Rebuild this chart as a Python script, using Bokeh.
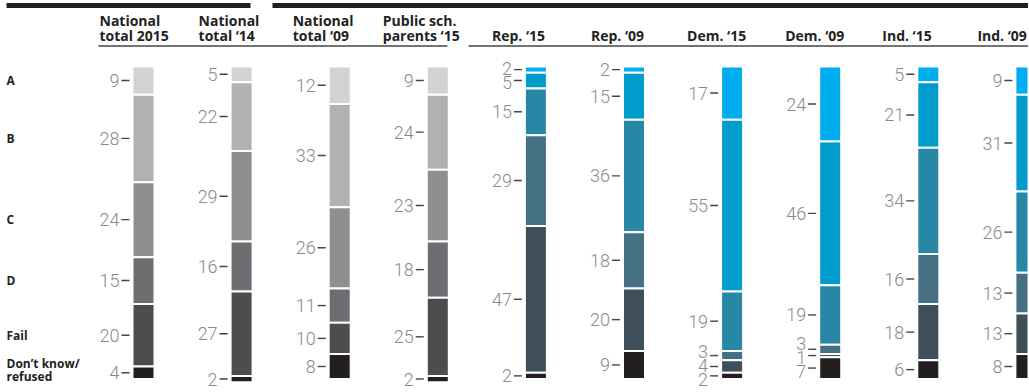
from bokeh.plotting import figure
from bokeh.models import Range1d, ColumnDataSource
from bokeh.core.properties import value
from bokeh.embed import file_html
from bokeh.resources import INLINE

# ---------------- data ----------------
grades = ["A", "B", "C", "D", "Fail", "Don’t know/\nrefused"]
column_labels = ["National\ntotal 2015", "National\ntotal ‘14", "National\ntotal ‘09",
                 "Public sch.\nparents ‘15", "Rep. ‘15", "Rep. ‘09", "Dem. ‘15",
                 "Dem. ‘09", "Ind. ‘15", "Ind. ‘09"]
national_2015 = [9, 28, 24, 15, 20, 4]
national_14 = [5, 22, 29, 16, 27, 2]
national_09 = [12, 33, 26, 11, 10, 8]
public_parents_15 = [9, 24, 23, 18, 25, 2]
rep_15 = [2, 5, 15, 29, 47, 2]
rep_09 = [2, 15, 36, 18, 20, 9]
dem_15 = [17, 55, 19, 3, 4, 2]
dem_09 = [24, 46, 19, 3, 1, 7]
ind_15 = [5, 21, 34, 16, 18, 6]
ind_09 = [9, 31, 26, 13, 13, 8]
series = [national_2015, national_14, national_09, public_parents_15,
          rep_15, rep_09, dem_15, dem_09, ind_15, ind_09]

# ---------------- styles ----------------
gray_palette = ["#d1d2d4", "#b0b1b3", "#8e8f91", "#6d6e71", "#4d4d4f", "#231f20"]
blue_palette = ["#00aeef", "#009ccc", "#2788a6", "#456f83", "#3f4f59", "#231f20"]
palettes = [gray_palette] * 4 + [blue_palette] * 6

PX_PER_PCT = 3.125      # vertical scale
TOP_IMG = 67            # image y of 0 %
COL_PX = 98.1           # column spacing in px
COL0_IMG = 144          # image x of first column centre
FIG_W, FIG_H = 1028, 391
IMG_TOP = 1             # image y of figure top
IMG_LEFT = 1            # image x of figure left


def ypx(img_y):
    return (img_y - TOP_IMG) / PX_PER_PCT


def xpx(img_x):
    return (img_x - COL0_IMG) / COL_PX


def dx(px):
    return px / COL_PX


def dy(px):
    return px / PX_PER_PCT


p = figure(width=FIG_W, height=FIG_H, output_backend="svg", toolbar_location=None,
           x_range=Range1d(xpx(IMG_LEFT), xpx(IMG_LEFT + FIG_W)),
           y_range=Range1d(ypx(IMG_TOP + FIG_H), ypx(IMG_TOP)),
           min_border=0, outline_line_color=None)
p.axis.visible = False
p.grid.visible = False

# ---------------- bars ----------------
bx, btop, bbot, bcol = [], [], [], []
for i, vals in enumerate(series):
    cum = 0
    for j, v in enumerate(vals):
        bx.append(i)
        btop.append(cum)
        bbot.append(cum + v)
        bcol.append(palettes[i][j])
        cum += v
p.vbar(x="x", top="top", bottom="bottom", width=dx(22), fill_color="color",
       line_color="white", line_width=2,
       source=ColumnDataSource(dict(x=bx, top=btop, bottom=bbot, color=bcol)))


# ---------------- value labels ----------------
def spread(mids, gap):
    groups = [[k] for k in range(len(mids))]

    def pos(g):
        c = sum(mids[k] for k in g) / len(g)
        s = c - gap * (len(g) - 1) / 2
        return [s + gap * n for n in range(len(g))]

    changed = True
    while changed:
        changed = False
        for gi in range(len(groups) - 1):
            a, b = pos(groups[gi]), pos(groups[gi + 1])
            if b[0] - a[-1] < gap - 1e-9:
                groups[gi] = groups[gi] + groups[gi + 1]
                del groups[gi + 1]
                changed = True
                break
    out = []
    for g in groups:
        out += pos(g)
    return out


lx, ly, lt, d0, d1, dyv = [], [], [], [], [], []
for i, vals in enumerate(series):
    cum = 0
    mids = []
    for v in vals:
        mids.append(cum + v / 2)
        cum += v
    ys = spread(mids, dy(14))
    for v, m, yy in zip(vals, mids, ys):
        lx.append(i - dx(24))
        ly.append(yy)
        lt.append(str(v))
        d0.append(i - dx(22))
        d1.append(i - dx(14))
        dyv.append(m)

p.text(x="x", y="y", text="t", source=ColumnDataSource(dict(x=lx, y=ly, t=lt)),
       text_align="right", text_baseline="middle", text_font=value("Roboto Light"),
       text_font_size="18px", text_color="#8a8a8a")
p.segment(x0="x0", x1="x1", y0="y", y1="y",
          source=ColumnDataSource(dict(x0=d0, x1=d1, y=dyv)),
          line_color="#444444", line_width=1.4)

# ---------------- row labels (aligned to first column) ----------------
cum = 0
rx, ry, rt = [], [], []
for g, v in zip(grades, national_2015):
    mid = cum + v / 2
    cum += v
    lines = g.split("\n")
    n = len(lines)
    for k, line in enumerate(lines):
        rx.append(xpx(7))
        ry.append(mid + dy(13) * (k - (n - 1) / 2) - dy(3) * (n - 1))
        rt.append(line)
p.text(x="x", y="y", text="t", source=ColumnDataSource(dict(x=rx, y=ry, t=rt)),
       text_align="left", text_baseline="middle", text_font=value("Open Sans"),
       text_font_style="bold", text_font_size="12px", text_color="#222222")

# ---------------- column headers ----------------
hdr_offset = [-34, -33, -37, -45, -34, -33, -35, -35, -36, -39]
hx, hy, ht = [], [], []
for i, lab in enumerate(column_labels):
    lines = lab.split("\n")
    if len(lines) == 1:
        ys = [ypx(36)]
    else:
        ys = [ypx(21), ypx(36)]
    for line, yy in zip(lines, ys):
        hx.append(i + dx(hdr_offset[i] - 10))
        hy.append(yy)
        ht.append(line)
p.text(x="x", y="y", text="t", source=ColumnDataSource(dict(x=hx, y=hy, t=ht)),
       text_align="left", text_baseline="middle", text_font=value("Open Sans"),
       text_font_style="bold", text_font_size="14px", text_color="#222222")

# rules: thick top bars and thin header underlines
p.segment(x0=[xpx(7), xpx(273)], x1=[xpx(251), xpx(1040)],
          y0=[ypx(6)] * 2, y1=[ypx(6)] * 2, line_color="#231f20", line_width=5)
p.segment(x0=[xpx(99), xpx(469)], x1=[xpx(448), xpx(1040)],
          y0=[ypx(46.5)] * 2, y1=[ypx(46.5)] * 2, line_color="#444444", line_width=1.5)

open("out.html", "w").write(file_html(p, INLINE))
